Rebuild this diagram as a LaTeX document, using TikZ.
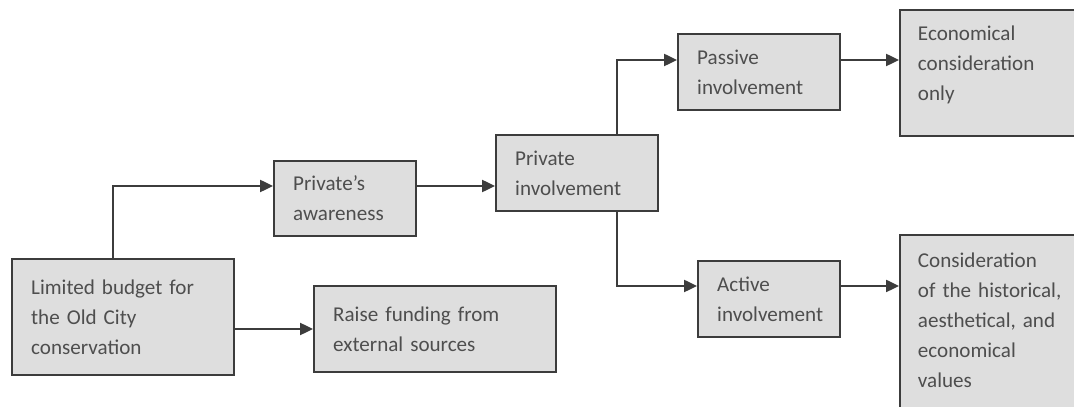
\documentclass[tikz,border=0pt]{standalone}
\usepackage{fontspec}
\setmainfont{Carlito}
\usetikzlibrary{arrows.meta}
\definecolor{boxfill}{HTML}{DEDEDE}
\definecolor{boxline}{HTML}{3C3C3C}
\definecolor{boxtext}{HTML}{4E4E4E}
\tikzset{
  box/.style={draw=boxline, line width=1.4pt, fill=boxfill, text=boxtext,
    align=left, inner xsep=0.48cm, inner ysep=0.1cm,
    font=\fontsize{15}{21.3}\selectfont},
  conn/.style={draw=boxline, line width=1.3pt,
    -{Triangle[length=0.32cm,width=0.3cm]}}
}
\begin{document}
\begin{tikzpicture}[x=0.025cm, y=-0.025cm]
  \useasboundingbox (0,0) rectangle (1074,407);
  \clip (0,0) rectangle (1074,407);
  % boxes, centres in pixels of the original
  \node [box, minimum width=5.55cm, minimum height=2.9cm, text width=4.59cm] (limited) at (123,317)
    {Limited budget for\\the Old City\\conservation};
  \node [box, minimum width=3.55cm, minimum height=1.875cm, text width=2.59cm] (aware) at (345,198.5)
    {Private's\\awareness};
  \node [box, minimum width=4.05cm, minimum height=1.9cm, text width=3.09cm] (invol) at (577,173)
    {Private\\involvement};
  \node [box, minimum width=6.05cm, minimum height=2.15cm, text width=5.09cm] (raise) at (435,329)
    {Raise funding from\\external sources};
  \node [box, minimum width=4.05cm, minimum height=1.9cm, text width=3.09cm] (passive) at (759,72)
    {Passive\\involvement};
  \node [box, minimum width=3.55cm, minimum height=1.9cm, text width=2.59cm] (active) at (769,299)
    {Active\\involvement};
  % the two right boxes run off the page: extra depth lifts their text
  \node [box, minimum width=5cm, minimum height=3.15cm, text width=4.1cm, inner xsep=0.45cm, text depth=2cm] (econ) at (1000,73)
    {Economical\\consideration\\only};
  \node [box, minimum width=5cm, minimum height=4.875cm, text width=4.1cm, inner xsep=0.45cm, text depth=3.6cm] (consid) at (1000,332.5)
    {Consideration\\of the historical,\\aesthetical, and\\economical\\values};

  % connectors
  \draw [conn] ([xshift=-0.25cm]limited.north) |- ([yshift=0.3125cm]aware.west);
  \draw [conn] (limited.east |- raise.west) -- (raise.west);
  \draw [conn] ([yshift=0.3125cm]aware.east) -- ([yshift=-0.325cm]invol.west);
  \draw [conn] ([xshift=1cm]invol.north) |- ([yshift=0.3cm]passive.west);
  \draw [conn] ([xshift=1cm]invol.south) |- ([yshift=0.325cm]active.west);
  \draw [conn] ([yshift=0.3cm]passive.east) -- ([yshift=0.325cm]econ.west);
  \draw [conn] ([yshift=0.325cm]active.east) -- ([yshift=1.1625cm]consid.west);
\end{tikzpicture}
\end{document}
